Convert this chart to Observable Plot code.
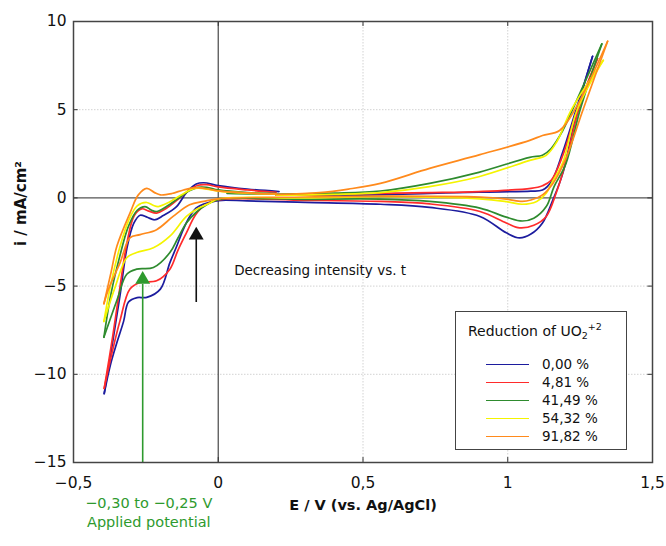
<!DOCTYPE html>
<html>
<head>
<meta charset="utf-8">
<script src="https://cdn.jsdelivr.net/npm/d3@7"></script>
<script src="https://cdn.jsdelivr.net/npm/@observablehq/plot@0.6"></script>
<style>
  html, body { margin: 0; padding: 0; background: #fff; }
  #wrap { position: relative; width: 666px; height: 546px; font-family: "DejaVu Sans", sans-serif; }
  #legend { position: absolute; left: 455px; top: 311px; width: 172px; height: 139px; border: 1.5px solid #444; background: #fff; box-sizing: border-box; font-size: 13.5px; color: #111; }
  #legend .title { position: absolute; left: 12px; top: 9px; white-space: nowrap; font-size: 14px; }
  #legend sub, #legend sup { font-size: 9.5px; }
  #legend .row { position: absolute; left: 30px; height: 18px; display: flex; align-items: center; }
  #legend .sw { width: 43px; height: 0; border-top: 1.8px solid; margin-right: 13px; }
</style>
</head>
<body>
<div id="wrap"><div id="chart"></div><div id="legend"></div></div>
<script>
// Series labels and colours
const seriesLabels = ["0,00 %", "4,81 %", "41,49 %", "54,32 %", "91,82 %"];
const seriesColors = ["#1c1c9e", "#ff2b2b", "#2e8b2e", "#f4f400", "#ff8a1c"];

// Axis ticks
const xTicks = [-0.5, 0, 0.5, 1, 1.5];
const yTicks = [-15, -10, -5, 0, 5, 10];
const xTickLabels = ["−0,5", "0", "0,5", "1", "1,5"];
const yTickLabels = ["−15", "−10", "−5", "0", "5", "10"];

// 0,00 % (blue): forward scan, reverse scan, return branch  [E (V), i (mA/cm2)]
const blueFwd = [[0.2,0.15],[0.4,0.16],[0.56,0.17],[0.73,0.25],[0.9,0.33],[1.08,0.38],[1.12,0.45],[1.15,0.9],[1.19,2.6],[1.236,5.0],[1.293,8.03]];
const blueRev = [[1.293,8.03],[1.24,5.0],[1.19,1.39],[1.156,-0.11],[1.12,-1.42],[1.08,-2.05],[1.041,-2.27],[0.995,-1.98],[0.904,-1.05],[0.73,-0.54],[0.56,-0.36],[0.3,-0.25],[0.1,-0.17],[0.0,-0.15],[-0.05,-0.35],[-0.076,-0.57],[-0.1,-1.1],[-0.121,-1.8],[-0.145,-2.8],[-0.167,-3.67],[-0.2,-5.17],[-0.247,-5.64],[-0.28,-5.65],[-0.31,-5.9],[-0.327,-7.0],[-0.35,-8.2],[-0.373,-9.5],[-0.394,-11.1]];
const blueRet = [[-0.394,-11.1],[-0.365,-8.2],[-0.339,-5.5],[-0.316,-2.9],[-0.292,-1.45],[-0.27,-0.98],[-0.245,-1.1],[-0.22,-1.24],[-0.19,-1.0],[-0.144,-0.49],[-0.11,0.3],[-0.076,0.79],[-0.05,0.86],[0.0,0.7],[0.1,0.5],[0.21,0.36]];

// 4,81 % (red)
const redFwd = [[0.2,0.15],[0.4,0.2],[0.56,0.26],[0.73,0.3],[0.9,0.36],[1.08,0.54],[1.12,0.69],[1.15,1.0],[1.19,2.4],[1.24,5.0],[1.31,7.9]];
const redRev = [[1.31,7.9],[1.245,5.0],[1.2,2.0],[1.167,0.26],[1.133,-1.05],[1.09,-1.55],[1.041,-1.7],[0.995,-1.42],[0.904,-0.77],[0.73,-0.34],[0.56,-0.2],[0.3,-0.14],[0.0,-0.12],[-0.053,-0.49],[-0.08,-1.0],[-0.11,-1.98],[-0.14,-3.0],[-0.167,-4.04],[-0.213,-4.7],[-0.27,-4.8],[-0.305,-5.17],[-0.34,-7.0],[-0.37,-9.0],[-0.394,-10.8]];
const redRet = [[-0.394,-10.8],[-0.365,-7.9],[-0.339,-5.0],[-0.316,-2.6],[-0.29,-1.0],[-0.265,-0.62],[-0.24,-0.75],[-0.213,-0.86],[-0.18,-0.6],[-0.14,-0.1],[-0.1,0.45],[-0.07,0.72],[-0.04,0.75],[0.0,0.62],[0.1,0.45],[0.2,0.32]];

// 41,49 % (green)
const greenFwd = [[0.03,0.26],[0.2,0.22],[0.4,0.27],[0.56,0.39],[0.73,0.82],[0.9,1.45],[1.076,2.3],[1.12,2.42],[1.15,2.8],[1.19,3.82],[1.24,5.6],[1.325,8.73]];
const greenRev = [[1.325,8.73],[1.25,5.0],[1.2,1.9],[1.16,0.64],[1.133,-0.49],[1.09,-1.15],[1.05,-1.31],[0.995,-1.09],[0.904,-0.58],[0.73,-0.2],[0.56,-0.07],[0.3,-0.08],[0.0,-0.1],[-0.04,-0.39],[-0.075,-0.8],[-0.11,-1.42],[-0.14,-2.3],[-0.167,-3.1],[-0.224,-3.95],[-0.282,-4.04],[-0.316,-4.33],[-0.35,-5.8],[-0.395,-7.9]];
const greenRet = [[-0.395,-7.9],[-0.37,-5.4],[-0.34,-3.3],[-0.31,-1.6],[-0.28,-0.7],[-0.253,-0.49],[-0.23,-0.7],[-0.213,-0.77],[-0.18,-0.5],[-0.14,-0.05],[-0.1,0.4],[-0.07,0.6],[-0.04,0.6],[0.0,0.45],[0.1,0.3],[0.2,0.25]];

// 54,32 % (yellow)
const yellowFwd = [[0.2,0.15],[0.4,0.2],[0.56,0.3],[0.73,0.64],[0.9,1.2],[1.076,2.13],[1.133,2.42],[1.17,3.2],[1.22,5.0],[1.33,7.8]];
const yellowRev = [[1.33,7.8],[1.24,5.0],[1.19,2.0],[1.15,0.8],[1.133,0.26],[1.1,-0.2],[1.05,-0.36],[0.995,-0.21],[0.904,-0.05],[0.56,0.07],[0.3,0.0],[0.0,-0.05],[-0.03,-0.3],[-0.07,-0.6],[-0.11,-1.05],[-0.167,-2.17],[-0.224,-2.83],[-0.282,-3.1],[-0.316,-3.39],[-0.355,-5.0],[-0.395,-7.0]];
const yellowRet = [[-0.395,-7.0],[-0.37,-4.8],[-0.34,-2.8],[-0.31,-1.3],[-0.28,-0.45],[-0.247,-0.26],[-0.225,-0.42],[-0.207,-0.49],[-0.17,-0.25],[-0.13,0.15],[-0.09,0.5],[-0.07,0.55],[-0.04,0.5],[0.0,0.38],[0.1,0.27],[0.2,0.22]];

// 91,82 % (orange)
const orangeFwd = [[0.2,0.2],[0.35,0.3],[0.45,0.5],[0.56,0.82],[0.73,1.67],[0.904,2.45],[1.076,3.26],[1.12,3.54],[1.179,3.82],[1.236,5.13],[1.345,8.88]];
const orangeRev = [[1.345,8.88],[1.26,5.0],[1.2,2.2],[1.156,0.82],[1.12,0.17],[1.08,-0.12],[1.05,-0.2],[0.995,-0.07],[0.904,0.05],[0.56,0.1],[0.3,0.05],[0.0,-0.05],[-0.05,-0.2],[-0.099,-0.39],[-0.156,-1.05],[-0.213,-1.8],[-0.27,-2.08],[-0.305,-2.26],[-0.339,-3.67],[-0.379,-5.17],[-0.395,-6.0]];
const orangeRet = [[-0.395,-6.0],[-0.37,-4.2],[-0.35,-2.73],[-0.305,-0.86],[-0.276,0.17],[-0.247,0.54],[-0.22,0.3],[-0.2,0.17],[-0.16,0.25],[-0.12,0.45],[-0.076,0.58],[-0.04,0.52],[0.0,0.4],[0.1,0.28],[0.2,0.22]];

// Annotations
const annoText = ["Decreasing intensity vs. t"];
const annoTextE = [0.055];
const annoTextI = [-4.15];
const blackArrow = {E: -0.076, from: -5.93, to: -2.3, head: -2.12};
const greenArrow = {E: -0.261, from: -15, to: -4.9, head: -4.63};
const greenNote = ["−0,30 to −0,25 V", "Applied potential"];
const greenNoteE = -0.24;
const greenNoteI = [-17.3, -18.4];

const allSeries = [
  [blueFwd, blueRev, blueRet],
  [redFwd, redRev, redRet],
  [greenFwd, greenRev, greenRet],
  [yellowFwd, yellowRev, yellowRet],
  [orangeFwd, orangeRev, orangeRet]
];

const rows = [];
allSeries.forEach((branches, si) => {
  branches.forEach((pts, bi) => {
    pts.forEach(([E, i]) => rows.push({E, i, s: seriesLabels[si], seg: si + "-" + bi}));
  });
});

const font = "DejaVu Sans, sans-serif";
const green = "#2e9a2e";

const chart = Plot.plot({
  width: 666,
  height: 546,
  marginLeft: 73,
  marginRight: 14,
  marginTop: 21,
  marginBottom: 84,
  style: {fontFamily: font, background: "#fff", overflow: "visible"},
  x: {domain: [-0.5, 1.5]},
  y: {domain: [-15, 10]},
  color: {domain: seriesLabels, range: seriesColors},
  marks: [
    Plot.ruleY([5, -5, -10], {stroke: "#d2d2d2", strokeDasharray: "1.5,1.5"}),
    Plot.ruleX([0.5, 1], {stroke: "#d2d2d2", strokeDasharray: "1.5,1.5"}),
    Plot.ruleY([0], {stroke: "#555", strokeWidth: 1.3}),
    Plot.ruleX([0], {stroke: "#555", strokeWidth: 1.3}),
    Plot.line(rows, {x: "E", y: "i", z: "seg", stroke: "s", curve: "catmull-rom", strokeWidth: 1.7}),
    // arrows
    Plot.ruleX([blackArrow], {x: "E", y1: "from", y2: "to", stroke: "#111", strokeWidth: 1.6}),
    Plot.dot([blackArrow], {x: "E", y: "head", symbol: "triangle", r: 5.5, fill: "#111", stroke: null}),
    Plot.ruleX([greenArrow], {x: "E", y1: "from", y2: "to", stroke: green, strokeWidth: 1.6}),
    Plot.dot([greenArrow], {x: "E", y: "head", symbol: "triangle", r: 5.5, fill: green, stroke: null}),
    Plot.text(annoText, {x: (d, k) => annoTextE[k], y: (d, k) => annoTextI[k], text: d => d, textAnchor: "start", fontSize: 13.5, fill: "#111"}),
    Plot.text(greenNote, {x: () => greenNoteE, y: (d, k) => greenNoteI[k], text: d => d, textAnchor: "middle", fontSize: 14.5, fill: green, clip: false}),
    // ticks inside frame
    Plot.ruleX(xTicks, {x: d => d, y1: -15, y2: -14.72, stroke: "#333"}),
    Plot.ruleX(xTicks, {x: d => d, y1: 9.72, y2: 10, stroke: "#333"}),
    Plot.ruleY(yTicks, {y: d => d, x1: -0.5, x2: -0.484, stroke: "#333"}),
    Plot.ruleY(yTicks, {y: d => d, x1: 1.484, x2: 1.5, stroke: "#333"}),
    Plot.axisX(xTicks, {tickSize: 0, tickPadding: 14, tickFormat: (d, k) => xTickLabels[k], fontSize: 15.5, label: null, fill: "#111"}),
    Plot.axisY(yTicks, {tickSize: 0, tickPadding: 7, tickFormat: (d, k) => yTickLabels[k], fontSize: 15.5, label: null, fill: "#111"}),
    Plot.text(["E / V (vs. Ag/AgCl)"], {frameAnchor: "bottom", dy: 47, text: d => d, fontSize: 14.5, fontWeight: "bold", fill: "#111"}),
    Plot.text(["i / mA/cm²"], {frameAnchor: "left", dx: -52, dy: 4, rotate: -90, text: d => d, fontSize: 15, fontWeight: "bold", fill: "#111"}),
    Plot.frame({stroke: "#444", strokeWidth: 1.5})
  ]
});
document.getElementById("chart").appendChild(chart);

// Legend
const legend = document.getElementById("legend");
legend.innerHTML = '<div class="title">Reduction of UO<sub>2</sub><sup>+2</sup></div>' +
  seriesLabels.map((lab, k) => `<div class="row" style="top:${43 + k * 18}px"><div class="sw" style="border-color:${seriesColors[k]}"></div><span>${lab}</span></div>`).join("");
</script>
</body>
</html>
